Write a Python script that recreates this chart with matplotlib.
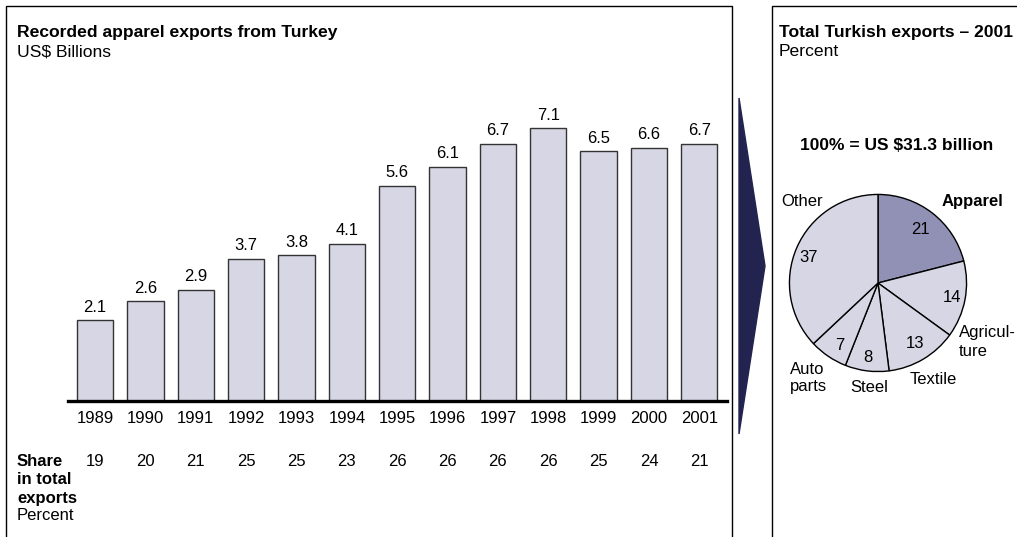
import matplotlib
matplotlib.use("Agg")
import matplotlib.pyplot as plt
from matplotlib.patches import Rectangle, Polygon

plt.rcParams["font.family"] = ["Liberation Sans", "DejaVu Sans"]

# data
years = ["1989", "1990", "1991", "1992", "1993", "1994", "1995",
         "1996", "1997", "1998", "1999", "2000", "2001"]
exports_bn = [2.1, 2.6, 2.9, 3.7, 3.8, 4.1, 5.6, 6.1, 6.7, 7.1, 6.5, 6.6, 6.7]
share_pct = [19, 20, 21, 25, 25, 23, 26, 26, 26, 26, 25, 24, 21]

sectors = ["Apparel", "Agricul-\nture", "Textile", "Steel", "Auto\nparts", "Other"]
sector_pct = [21, 14, 13, 8, 7, 37]

W, H = 1017, 537
BAR_COLOR = "#D6D6E4"
APPAREL_COLOR = "#9191B5"
ARROW_COLOR = "#23234F"
TITLE_SIZE = 12.6


def fx(px):
    return px / W


def fy(py):
    return 1 - py / H


fig = plt.figure(figsize=(W / 100, H / 100), dpi=100)

# panel frames
fig.patches.append(Rectangle((fx(6), fy(560)), fx(726), fy(6) - fy(560),
                             transform=fig.transFigure, fill=False,
                             edgecolor="black", linewidth=1))
fig.patches.append(Rectangle((fx(772), fy(560)), fx(300), fy(6) - fy(560),
                             transform=fig.transFigure, fill=False,
                             edgecolor="black", linewidth=1))

# arrow
fig.patches.append(Polygon([(fx(739), fy(98)), (fx(765), fy(266)), (fx(739), fy(434))],
                           closed=True, transform=fig.transFigure,
                           facecolor=ARROW_COLOR, edgecolor=ARROW_COLOR))

# left panel titles
fig.text(fx(17), fy(33), "Recorded apparel exports from Turkey", fontsize=TITLE_SIZE,
         fontweight="bold", va="center", ha="left")
fig.text(fx(17), fy(52), "US$ Billions", fontsize=TITLE_SIZE, va="center", ha="left")

# bar chart
ax = fig.add_axes([fx(68), fy(401), fx(659), fy(110) - fy(401)])
x = list(range(len(years)))
ax.bar(x, exports_bn, width=0.72, color=BAR_COLOR, edgecolor="#333333", linewidth=1)
for xi, v in zip(x, exports_bn):
    ax.annotate(f"{v:.1f}", (xi, v), xytext=(0, 4), textcoords="offset points",
                ha="center", va="bottom", fontsize=12)
ax.set_xlim(-0.54, 12.55)
ax.set_ylim(0, 7.58)
for s in ["top", "left", "right"]:
    ax.spines[s].set_visible(False)
ax.spines["bottom"].set_linewidth(2.4)
ax.set_yticks([])
ax.set_xticks(x)
ax.set_xticklabels(years, fontsize=12)
ax.tick_params(axis="x", length=0, pad=7)
ax.patch.set_alpha(0)

# share row
share_y = 462
fig.text(fx(17), fy(share_y), "Share", fontsize=12, fontweight="bold", va="center")
fig.text(fx(17), fy(480), "in total", fontsize=12, fontweight="bold", va="center")
fig.text(fx(17), fy(498), "exports", fontsize=12, fontweight="bold", va="center")
fig.text(fx(17), fy(516), "Percent", fontsize=12, va="center")
for xi, s in zip(x, share_pct):
    px = ax.transData.transform((xi, 0))[0]
    fig.text(px / W, fy(share_y), str(s), fontsize=12, ha="center", va="center")

# right panel
fig.text(fx(779), fy(33), "Total Turkish exports \u2013 2001", fontsize=TITLE_SIZE,
         fontweight="bold", va="center", ha="left")
fig.text(fx(779), fy(52), "Percent", fontsize=TITLE_SIZE, va="center", ha="left")
fig.text(fx(897), fy(146), "100% = US $31.3 billion", fontsize=12.5,
         fontweight="bold", va="center", ha="center")

cx, cy, r = 878, 283, 89
pax = fig.add_axes([fx(cx - r), fy(cy + r), fx(2 * r), fy(cy - r) - fy(cy + r)])
colors = [APPAREL_COLOR] + [BAR_COLOR] * (len(sectors) - 1)
pax.pie(sector_pct, colors=colors, startangle=90, counterclock=False,
        wedgeprops=dict(edgecolor="black", linewidth=1))
pax.set_xlim(-1.005, 1.005)
pax.set_ylim(-1.005, 1.005)
pax.set_aspect("equal")

# pie value labels and category labels
value_pos = [(920, 230), (952, 298), (915, 343), (868, 357), (840, 345), (809, 258)]
name_pos = [(972, 202), (959, 342), (933, 379), (869, 388), (790, 378), (802, 201)]
name_ha = ["center", "left", "center", "center", "left", "center"]
for name, v, (vx, vy), (nx, ny), ha in zip(sectors, sector_pct, value_pos,
                                          name_pos, name_ha):
    fig.text(fx(vx), fy(vy), str(v), fontsize=12, ha="center", va="center")
    fig.text(fx(nx), fy(ny), name, fontsize=12, ha=ha, va="center",
             fontweight="bold" if name == "Apparel" else "normal",
             linespacing=1.25)

fig.savefig("out.png", dpi=100)
